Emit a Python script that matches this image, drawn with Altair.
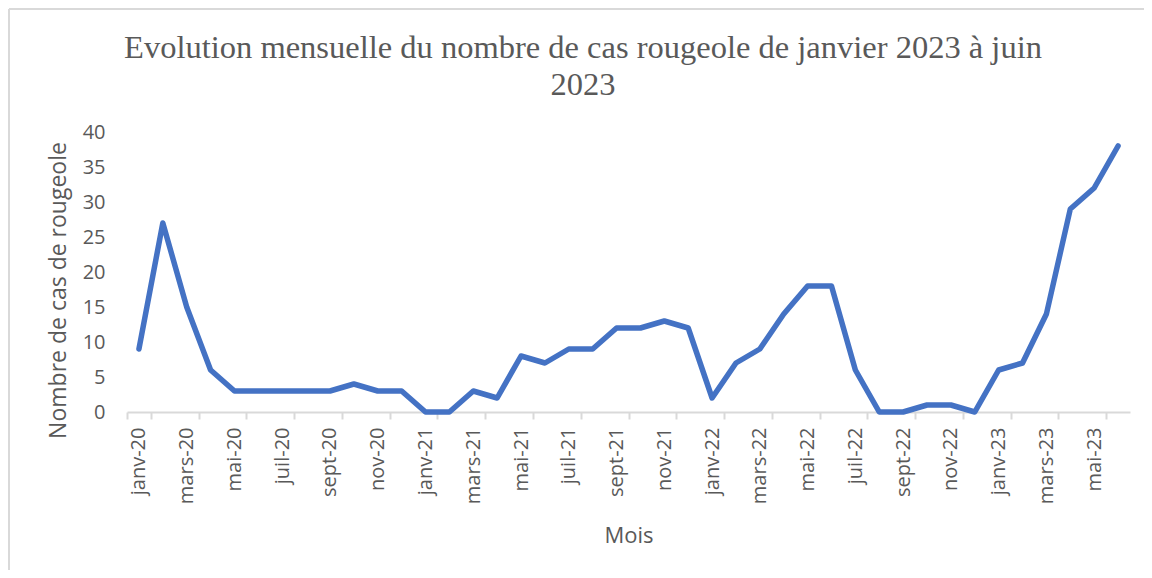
import altair as alt
import pandas as pd

month_names = ["janv", "févr", "mars", "avr", "mai", "juin",
               "juil", "août", "sept", "oct", "nov", "déc"]
years = ["20", "21", "22", "23"]
mois = [f"{m}-{y}" for y in years for m in month_names][:42]

cas = [9, 27, 15, 6, 3, 3, 3, 3, 3, 4, 3, 3,
       0, 0, 3, 2, 8, 7, 9, 9, 12, 12, 13, 12,
       2, 7, 9, 14, 18, 18, 6, 0, 0, 1, 1, 0,
       6, 7, 14, 29, 32, 38]

tick_labels = mois[::2]
title_lines = ["Evolution mensuelle du nombre de cas rougeole de janvier 2023 à juin", "2023"]

df = pd.DataFrame({"Mois": mois, "Cas": cas})
one = pd.DataFrame({"k": [0]})

GREY = "#595959"
AXIS_GREY = "#d9d9d9"

line = alt.Chart(df).mark_line(
    color="#4472C4", strokeWidth=5.5, strokeCap="round", strokeJoin="round"
).encode(
    x=alt.X("Mois:N", sort=mois, title="Mois",
            scale=alt.Scale(paddingInner=0, paddingOuter=0),
            axis=alt.Axis(values=tick_labels, labelAngle=270, tickBand="extent",
                          labelFont="Open Sans", labelFontSize=20, labelColor=GREY,
                          labelPadding=8, tickSize=7, tickColor=AXIS_GREY, tickWidth=2,
                          domainColor=AXIS_GREY, domainWidth=2,
                          titleFont="Open Sans", titleFontSize=22, titleColor=GREY,
                          titleFontWeight="normal", titleY=123, titleBaseline="middle")),
    y=alt.Y("Cas:Q", title="Nombre de cas de rougeole",
            scale=alt.Scale(domain=[0, 40], nice=False),
            axis=alt.Axis(values=[0, 5, 10, 15, 20, 25, 30, 35, 40], grid=False,
                          domain=False, ticks=False,
                          labelFont="Open Sans", labelFontSize=20, labelColor=GREY,
                          labelPadding=22,
                          titleFont="Open Sans", titleFontSize=23, titleColor=GREY,
                          titleFontWeight="normal", titleX=-69, titleY=158,
                          titleBaseline="middle"))
)

border = alt.Chart(one).mark_rule(color=AXIS_GREY, strokeWidth=2).encode(
    x=alt.value(-118), y=alt.value(-123), y2=alt.value(700)
)
border_top = alt.Chart(one).mark_rule(color=AXIS_GREY, strokeWidth=2).encode(
    x=alt.value(-118), x2=alt.value(1100), y=alt.value(-123)
)

title1 = alt.Chart(one).mark_text(
    font="Liberation Serif", fontSize=32.5, color=GREY, align="center", baseline="alphabetic"
).encode(x=alt.value(456), y=alt.value(-74), text=alt.value(title_lines[0]))
title2 = alt.Chart(one).mark_text(
    font="Liberation Serif", fontSize=32.5, color=GREY, align="center", baseline="alphabetic"
).encode(x=alt.value(456), y=alt.value(-37), text=alt.value(title_lines[1]))

chart = alt.layer(border, border_top, title1, title2, line).properties(
    width=1003, height=280,
    autosize=alt.AutoSizeParams(type="none"),
    padding={"left": 119, "top": 124, "right": 14, "bottom": 158},
).configure_view(stroke=None)

chart.save("out.html", embed_options={"renderer": "svg", "actions": False})
